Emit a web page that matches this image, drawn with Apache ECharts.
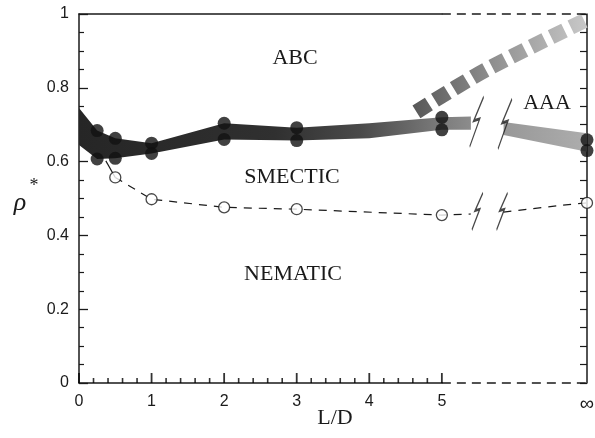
<!DOCTYPE html>
<html>
<head>
<meta charset="utf-8">
<script src="https://cdn.jsdelivr.net/npm/echarts@6/dist/echarts.min.js"></script>
<style>
html,body{margin:0;padding:0;background:#fff;}
#main{width:595px;height:438px;}
</style>
</head>
<body>
<div id="main"></div>
<script>
// coexistence band (dark, finite L/D)
var bandX = [0, 0.25, 0.5, 1, 2, 3, 4, 5, 5.4];
var bandLow = [0.645, 0.607, 0.609, 0.622, 0.660, 0.657, 0.663, 0.686, 0.686];
var bandHigh = [0.745, 0.684, 0.663, 0.650, 0.704, 0.692, 0.704, 0.720, 0.722];
// band after the axis break (L/D -> infinity, drawn at x = 7)
var bandInfX = [5.85, 7];
var bandInfLow = [0.672, 0.627];
var bandInfHigh = [0.707, 0.677];
// filled dots
var dotX = [0.25, 0.5, 1, 2, 3, 5, 7];
var dotHigh = [0.684, 0.663, 0.650, 0.704, 0.692, 0.720, 0.659];
var dotLow = [0.607, 0.609, 0.622, 0.660, 0.657, 0.686, 0.630];
// smectic-nematic line
var openX = [0.5, 1, 2, 3, 5, 7];
var openY = [0.557, 0.498, 0.476, 0.471, 0.455, 0.488];
var smStart = [0.37, 0.602];
var smBreakLeft = [5.4, 0.458];
var smRightX = [5.85, 6.67];
var smRightY = [0.463, 0.482];
// grey dashed boundary (upper right)
var greyX = [4.65, 5.6, 7];
var greyY = [0.735, 0.848, 0.985];
// break marks
var breakTopX = [5.48, 5.87];
var breakTopY = [0.708, 0.702];
var breakBotX = [5.49, 5.83];
var breakBotY = [0.465, 0.465];
// axis: finite part 0..5, infinity drawn at 7
var xFiniteMax = 5;
var infX = 7;

function pairs(xs, ys){
	var out = [];
	for (var i = 0; i < xs.length; i++) out.push([xs[i], ys[i]]);
	return out;
}
function triples(xs, lo, hi){
	var out = [];
	for (var i = 0; i < xs.length; i++) out.push([xs[i], lo[i], hi[i]]);
	return out;
}
// bottom ticks of the finite part
var xMajorTicks = [], xMinorTicks = [];
for (var k = 0; k <= xFiniteMax * 5; k++) {
	if (k % 5 == 0) xMajorTicks.push([k / 5, 0]);
	else xMinorTicks.push([+(k * 0.2).toFixed(1), 0]);
}

var serif = 'Liberation Serif';
var sans = 'Liberation Sans';
var ink = '#1a1a1a';

var gridLeft = 79, gridRight = 8, gridTop = 14, gridBottom = 55;
var plotW = 595 - gridLeft - gridRight;

var smDashed = pairs(openX.slice(0, 5), openY.slice(0, 5));
smDashed.push(smBreakLeft);
var smRight = pairs(smRightX, smRightY);
smRight.push([openX[5], openY[5]]);

var lightning = 'path://M14,0 L4,24 L10,22 L0,50';

// band drawn as one polygon: upper edge left->right, lower edge right->left
function bandRenderer(xs, lo, hi, fill){
	return function(params, api){
		if (params.dataIndex !== 0) return null;
		var pts = [];
		for (var i = 0; i < xs.length; i++) pts.push(api.coord([xs[i], hi[i]]));
		for (var j = xs.length - 1; j >= 0; j--) pts.push(api.coord([xs[j], lo[j]]));
		return {type: 'polygon', shape: {points: pts}, style: {fill: fill}};
	};
}

function label(text, x, y, font){
	return {type: 'text', x: x, y: y, z: 20,
		style: {text: text, font: font || ('22px "' + serif + '"'), fill: ink, align: 'center', verticalAlign: 'middle'}};
}

var chart = echarts.init(document.getElementById('main'));
var option = {
	animation: false,
	backgroundColor: '#fff',
	grid: [
		{left: gridLeft, right: gridRight, top: gridTop, bottom: gridBottom, show: false, containLabel: false, outerBoundsMode: 'none'},
		// second grid only spans the finite part 0..5: solid frame lines
		{left: gridLeft, width: plotW * xFiniteMax / infX, top: gridTop, bottom: gridBottom, show: false, containLabel: false, outerBoundsMode: 'none'}
	],
	xAxis: [{
		gridIndex: 0, type: 'value', position: 'bottom', min: 0, max: infX, interval: 1,
		axisLine: {show: false, onZero: false},
		axisTick: {show: false},
		axisLabel: {margin: 11, fontFamily: sans, fontSize: 16, color: ink,
			formatter: function(v){ return v == infX ? '{inf|\u221e}' : (v > xFiniteMax ? '' : String(v)); },
			rich: {inf: {fontFamily: sans, fontSize: 20, color: ink}}},
		splitLine: {show: false}
	}, {
		gridIndex: 1, type: 'value', position: 'bottom', min: 0, max: xFiniteMax,
		axisLine: {show: true, onZero: false, lineStyle: {color: ink, width: 1.5}},
		axisTick: {show: false},
		axisLabel: {show: false},
		splitLine: {show: false}
	}, {
		gridIndex: 1, type: 'value', position: 'top', min: 0, max: xFiniteMax,
		axisLine: {show: true, onZero: false, lineStyle: {color: ink, width: 1.5}},
		axisTick: {show: false},
		axisLabel: {show: false},
		splitLine: {show: false}
	}],
	yAxis: [{
		gridIndex: 0, type: 'value', position: 'left', min: 0, max: 1, interval: 0.2,
		axisLine: {show: true, onZero: false, lineStyle: {color: ink, width: 1.5}},
		axisTick: {show: true, inside: true, length: 9, lineStyle: {color: ink, width: 1.3}},
		minorTick: {show: true, splitNumber: 4, length: 5, lineStyle: {color: ink, width: 1.2}},
		axisLabel: {margin: 10, fontFamily: sans, fontSize: 16, color: ink},
		splitLine: {show: false}
	}, {
		gridIndex: 0, type: 'value', position: 'right', min: 0, max: 1, interval: 0.05,
		axisLine: {show: true, onZero: false, lineStyle: {color: ink, width: 1.5}},
		axisTick: {show: true, inside: true, length: 7, lineStyle: {color: ink, width: 1.2}},
		axisLabel: {show: false},
		splitLine: {show: false}
	}, {
		gridIndex: 1, type: 'value', min: 0, max: 1,
		axisLine: {show: false}, axisTick: {show: false}, axisLabel: {show: false}, splitLine: {show: false}
	}],
	graphic: [
		label('ABC', 295, 58),
		label('AAA', 547, 103),
		label('SMECTIC', 292, 177),
		label('NEMATIC', 293, 274),
		label('L/D', 335, 418),
		label('\u03c1', 20, 203, 'italic 26px "' + serif + '"'),
		label('*', 34, 186, '18px "' + serif + '"')
	],
	series: [
		// frame: dashed parts beyond the break
		{type: 'line', data: [[xFiniteMax, 0], [infX, 0]], symbol: 'none', clip: false, silent: true, z: 6,
			lineStyle: {color: ink, width: 1.5, type: [9, 6]}},
		{type: 'line', data: [[xFiniteMax, 1], [infX, 1]], symbol: 'none', clip: false, silent: true, z: 6,
			lineStyle: {color: ink, width: 1.5, type: [9, 6]}},
		// inward ticks on the bottom axis (finite part)
		{type: 'scatter', data: xMajorTicks, symbol: 'rect', symbolSize: [1.8, 10], symbolOffset: [0, -5],
			clip: false, silent: true, z: 7, itemStyle: {color: '#000'}},
		{type: 'scatter', data: xMinorTicks, symbol: 'rect', symbolSize: [1.6, 5], symbolOffset: [0, -2.5],
			clip: false, silent: true, z: 7, itemStyle: {color: '#000'}},
		// dark band
		{type: 'custom', data: triples(bandX, bandLow, bandHigh), clip: true, z: 2,
			encode: {x: 0, y: [1, 2]},
			renderItem: bandRenderer(bandX, bandLow, bandHigh, new echarts.graphic.LinearGradient(0, 0, 1, 0, [
				{offset: 0, color: '#262626'}, {offset: 0.5, color: '#303030'},
				{offset: 0.72, color: '#4a4a4a'}, {offset: 0.9, color: '#767676'}, {offset: 1, color: '#8c8c8c'}]))},
		// light band beyond the break
		{type: 'custom', data: triples(bandInfX, bandInfLow, bandInfHigh), clip: true, z: 2,
			encode: {x: 0, y: [1, 2]},
			renderItem: bandRenderer(bandInfX, bandInfLow, bandInfHigh, new echarts.graphic.LinearGradient(0, 0, 1, 0, [
				{offset: 0, color: '#989898'}, {offset: 1, color: '#adadad'}]))},
		// grey dashed boundary
		{type: 'line', data: pairs(greyX, greyY), symbol: 'none', smooth: 0.3, z: 2,
			lineStyle: {width: 15, cap: 'butt', type: [15, 7], color: new echarts.graphic.LinearGradient(0, 0, 1, 0, [
				{offset: 0, color: '#555'}, {offset: 0.5, color: '#959595'}, {offset: 1, color: '#cdcdcd'}])}},
		// smectic-nematic line
		{type: 'line', data: [smStart, [openX[0], openY[0]]], symbol: 'none', z: 3,
			lineStyle: {color: ink, width: 1.2}},
		{type: 'line', data: smDashed, symbol: 'none', z: 3,
			lineStyle: {color: ink, width: 1.2, type: [8, 7]}},
		{type: 'line', data: smRight, symbol: 'none', smooth: 0.3, z: 3,
			lineStyle: {color: ink, width: 1.2, type: [8, 7]}},
		{type: 'scatter', data: pairs(openX, openY), symbol: 'circle', symbolSize: 11, z: 4,
			itemStyle: {color: '#fff', borderColor: ink, borderWidth: 1.3}},
		// filled dots
		{type: 'scatter', data: pairs(dotX, dotHigh).concat(pairs(dotX, dotLow)), symbol: 'circle', symbolSize: 13, z: 4,
			itemStyle: {color: '#111'}},
		// axis-break marks
		{type: 'scatter', data: pairs(breakTopX, breakTopY), symbol: lightning, symbolSize: [14, 50], symbolKeepAspect: false, z: 5,
			itemStyle: {color: 'rgba(0,0,0,0)', borderColor: ink, borderWidth: 1.5}},
		{type: 'scatter', data: pairs(breakBotX, breakBotY), symbol: lightning, symbolSize: [11, 37], symbolKeepAspect: false, z: 5,
			itemStyle: {color: 'rgba(0,0,0,0)', borderColor: ink, borderWidth: 1.5}}
	]
};
chart.setOption(option);
</script>
</body>
</html>
